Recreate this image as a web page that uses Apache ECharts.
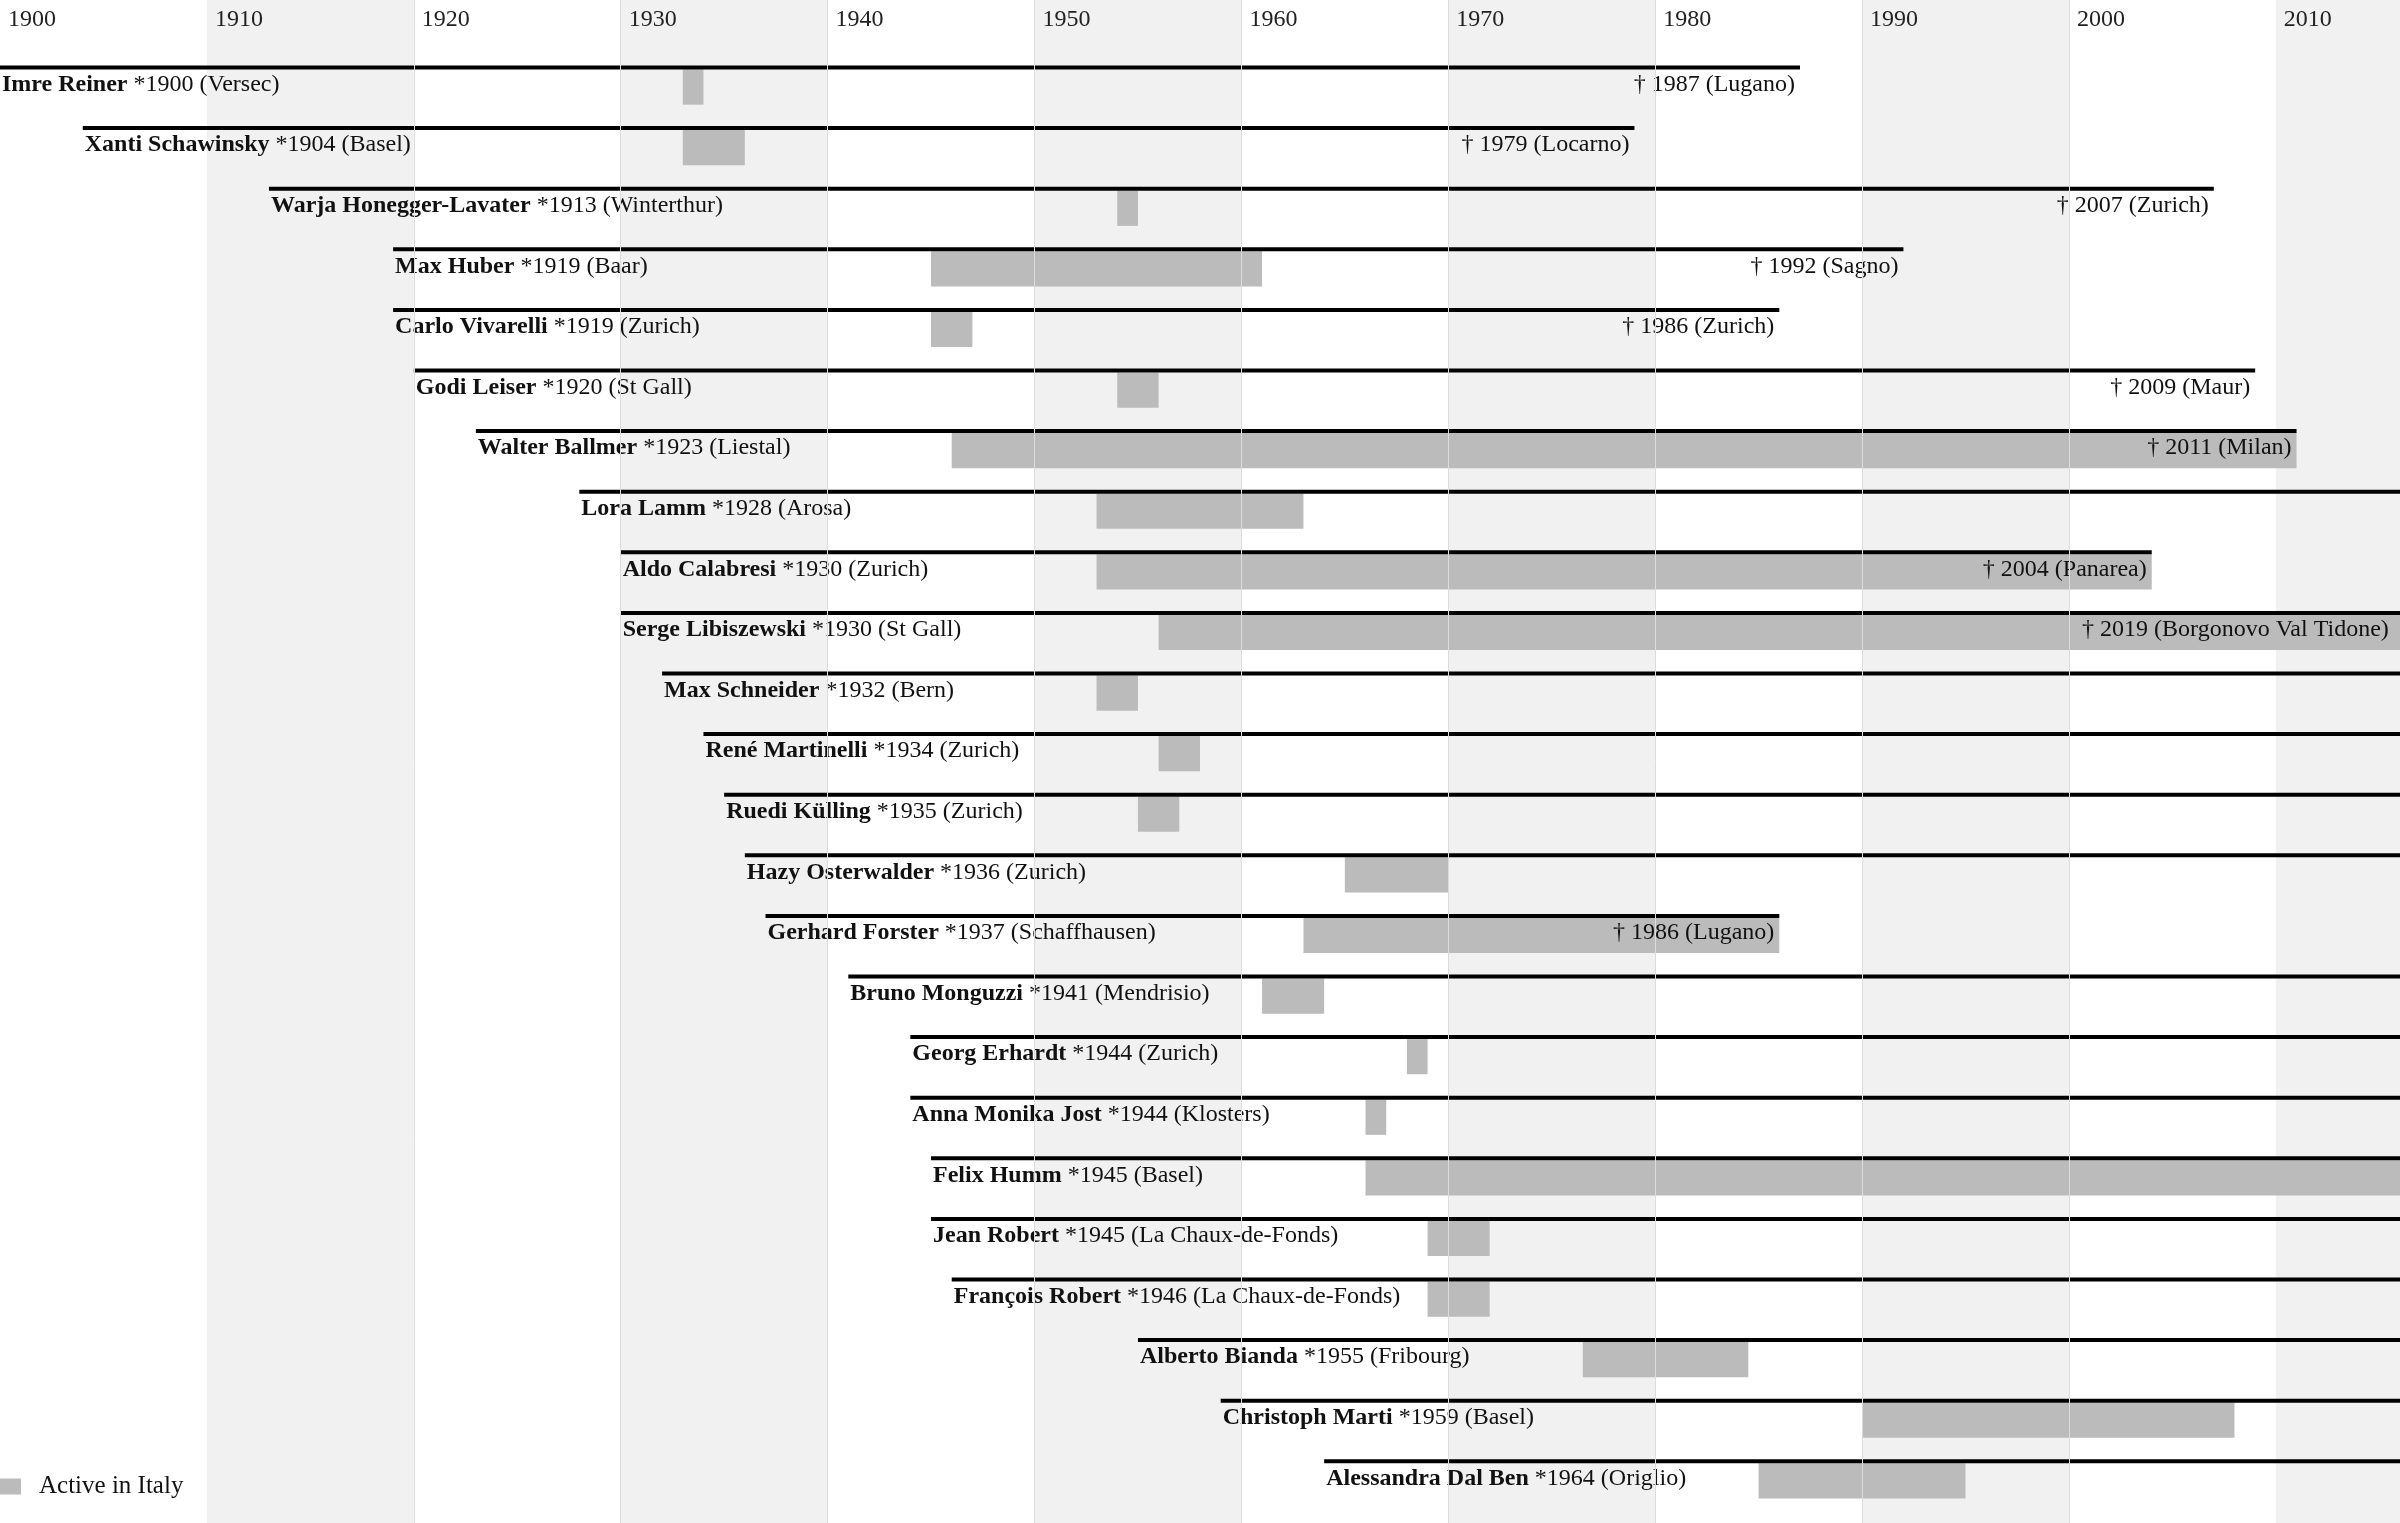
<!DOCTYPE html>
<html>
<head>
<meta charset="utf-8">
<title>Swiss designers active in Italy</title>
<script src="https://cdn.jsdelivr.net/npm/echarts@6/dist/echarts.min.js"></script>
<style>
  html, body { margin: 0; padding: 0; background: #fff; }
  #chart { width: 2400px; height: 1523px; }
</style>
</head>
<body>
<div id="chart"></div>
<script>
var names = ['Imre Reiner', 'Xanti Schawinsky', 'Warja Honegger-Lavater', 'Max Huber', 'Carlo Vivarelli',
  'Godi Leiser', 'Walter Ballmer', 'Lora Lamm', 'Aldo Calabresi', 'Serge Libiszewski', 'Max Schneider',
  'René Martinelli', 'Ruedi Külling', 'Hazy Osterwalder', 'Gerhard Forster', 'Bruno Monguzzi',
  'Georg Erhardt', 'Anna Monika Jost', 'Felix Humm', 'Jean Robert', 'François Robert',
  'Alberto Bianda', 'Christoph Marti', 'Alessandra Dal Ben'];
var births = [1900, 1904, 1913, 1919, 1919, 1920, 1923, 1928, 1930, 1930, 1932, 1934, 1935, 1936,
  1937, 1941, 1944, 1944, 1945, 1945, 1946, 1955, 1959, 1964];
var birthPlaces = ['Versec', 'Basel', 'Winterthur', 'Baar', 'Zurich', 'St Gall', 'Liestal', 'Arosa',
  'Zurich', 'St Gall', 'Bern', 'Zurich', 'Zurich', 'Zurich', 'Schaffhausen', 'Mendrisio', 'Zurich',
  'Klosters', 'Basel', 'La Chaux-de-Fonds', 'La Chaux-de-Fonds', 'Fribourg', 'Basel', 'Origlio'];
var deaths = [1987, 1979, 2007, 1992, 1986, 2009, 2011, null, 2004, 2019, null, null, null, null,
  1986, null, null, null, null, null, null, null, null, null];
var deathPlaces = ['Lugano', 'Locarno', 'Zurich', 'Sagno', 'Zurich', 'Maur', 'Milan', null, 'Panarea',
  'Borgonovo Val Tidone', null, null, null, null, 'Lugano', null, null, null, null, null, null, null, null, null];
var activeStart = [1933, 1933, 1954, 1945, 1945, 1954, 1946, 1953, 1953, 1956, 1953, 1956, 1955, 1965,
  1963, 1961, 1968, 1966, 1966, 1969, 1969, 1976.5, 1990, 1985];
var activeEnd = [1934, 1936, 1955, 1961, 1947, 1956, 2011, 1963, 2004, 2019, 1955, 1958, 1957, 1970,
  1986, 1964, 1969, 1967, 2016, 1972, 1972, 1984.5, 2008, 1995];
var gridYears = [1920, 1930, 1940, 1950, 1960, 1970, 1980, 1990, 2000];

var X_MIN = 1900, X_MAX = 2016, LABEL_MAX = 2015.7;
var FONT = '"Liberation Serif", "Times New Roman", serif';

var chart = echarts.init(document.getElementById('chart'));

function renderRow(params, api) {
  var i = api.value(0);
  var start = api.coord([births[i], i]);
  var lineEnd = api.coord([deaths[i] == null ? X_MAX : Math.min(deaths[i], X_MAX), i]);
  var y = start[1];
  var a0 = api.coord([activeStart[i], i]);
  var a1 = api.coord([Math.min(activeEnd[i], X_MAX), i]);
  var barH = api.size([0, 0.58])[1];
  var children = [
    { type: 'rect', shape: { x: a0[0], y: y + 2, width: a1[0] - a0[0], height: barH },
      style: { fill: '#bbbbbb' } },
    { type: 'line', shape: { x1: start[0], y1: y, x2: lineEnd[0], y2: y },
      style: { stroke: '#000', lineWidth: 4 } },
    { type: 'text', style: {
        x: start[0] + 2, y: y + 17,
        text: '{b|' + names[i] + '} *' + births[i] + ' (' + birthPlaces[i] + ')',
        font: '24px ' + FONT, fill: '#111', verticalAlign: 'middle', align: 'left',
        rich: { b: { fontWeight: 'bold', fontSize: 24, fontFamily: FONT, fill: '#111' } }
      } }
  ];
  if (deaths[i] != null) {
    var d = api.coord([Math.min(deaths[i], LABEL_MAX), i]);
    children.push({ type: 'text', style: {
      x: d[0] - 5, y: y + 17,
      text: '† ' + deaths[i] + ' (' + deathPlaces[i] + ')',
      font: '24px ' + FONT, fill: '#111', verticalAlign: 'middle', align: 'right'
    } });
  }
  return { type: 'group', children: children };
}

var option = {
  animation: false,
  grid: { left: 0, right: 0, top: 0, bottom: 0, containLabel: false, outerBoundsMode: 'none' },
  legend: {
    data: ['Active in Italy'],
    left: 0, top: 1474, padding: 0,
    icon: 'rect', itemWidth: 21, itemHeight: 16,
    selectedMode: false,
    textStyle: { fontFamily: FONT, fontSize: 25, color: '#111', padding: [0, 0, 0, 13] }
  },
  xAxis: {
    type: 'value', position: 'top',
    min: X_MIN, max: X_MAX, interval: 10,
    axisLine: { show: false }, axisTick: { show: false },
    splitLine: { show: false },
    splitArea: { show: true, areaStyle: { color: ['#ffffff', '#f1f1f1'] } },
    axisLabel: {
      inside: true, margin: 8, align: 'left', padding: [0, 0, 0, 8],
      showMaxLabel: false,
      formatter: function (v) { return String(v); },
      fontFamily: FONT, fontSize: 24, color: '#222'
    }
  },
  yAxis: {
    type: 'value', inverse: true, show: false,
    min: -1.114, max: 24.018
  },
  series: [
    {
      type: 'line', data: [], z: 1, silent: true,
      markLine: {
        silent: true, symbol: ['none', 'none'], label: { show: false },
        lineStyle: { color: '#dcdcdc', width: 1, type: 'solid' },
        data: gridYears.map(function (yr) { return { xAxis: yr }; })
      }
    },
    {
      name: 'Active in Italy',
      type: 'custom', z: 2,
      itemStyle: { color: '#bbbbbb' },
      renderItem: renderRow,
      encode: { x: 1, y: 0 },
      data: names.map(function (n, i) { return [i, births[i]]; })
    }
  ]
};

chart.setOption(option);
</script>
</body>
</html>
